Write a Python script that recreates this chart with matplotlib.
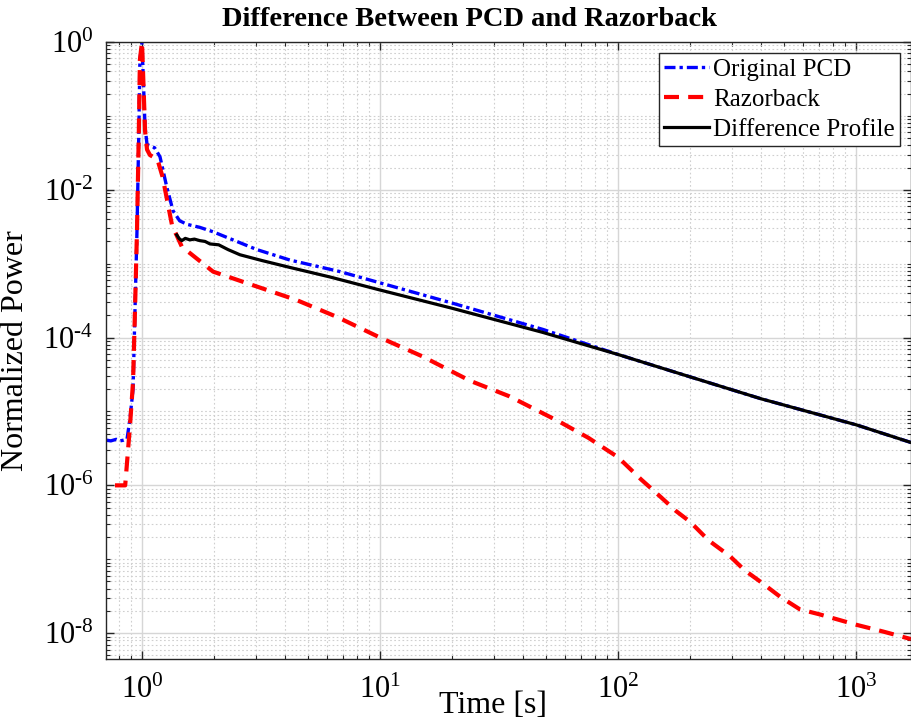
import numpy as np
import matplotlib
matplotlib.use("Agg")
import matplotlib.pyplot as plt
from matplotlib.ticker import FixedLocator, LogLocator, NullFormatter, FuncFormatter

plt.rcParams["font.family"] = ["Liberation Serif", "DejaVu Serif"]
plt.rcParams["mathtext.fontset"] = "custom"
plt.rcParams["mathtext.rm"] = "Liberation Serif"
plt.rcParams["mathtext.it"] = "Liberation Serif:italic"

# Original PCD (blue dash-dot)
orig_t = [0.706, 0.74, 0.78, 0.81, 0.84, 0.865, 0.89, 0.917, 0.935, 0.953, 0.97, 0.98, 1.0,
          1.007, 1.03, 1.05, 1.09, 1.13, 1.19, 1.27, 1.35, 1.44, 1.55, 1.75, 1.99, 2.41,
          3.04, 4.18, 6.8, 10, 20.3, 48.3, 100, 200, 400, 1000, 1700]
orig_p = [4.1e-6, 4.0e-6, 4.2e-6, 4.0e-6, 4.1e-6, 4.2e-6, 7.9e-6, 2.0e-5, 2.5e-4, 2.9e-3,
          6.3e-2, 0.575, 1.0, 0.525, 7.1e-2, 4.1e-2, 3.9e-2, 3.7e-2, 2.8e-2, 1.1e-2, 5.2e-3,
          3.8e-3, 3.4e-3, 3.1e-3, 2.7e-3, 2.1e-3, 1.55e-3, 1.12e-3, 7.8e-4, 5.5e-4,
          2.9e-4, 1.29e-4, 5.9e-5, 2.95e-5, 1.48e-5, 6.6e-6, 3.8e-6]

# Razorback (red dashed)
razor_t = [0.77, 0.85, 0.89, 0.917, 0.935, 0.953, 0.97, 0.98, 1.0, 1.007, 1.03, 1.05, 1.08,
           1.16, 1.22, 1.34, 1.40, 1.47, 1.99, 3.04, 4.48, 6.6, 10, 15, 23.9, 35, 57, 75,
           100, 125, 150, 175, 201, 240, 295, 340, 395, 480, 580, 700, 1000, 1300, 1700]
razor_p = [1.0e-6, 1.0e-6, 6.3e-6, 2.5e-5, 2.5e-4, 2.9e-3, 6.3e-2, 0.575, 1.0, 0.525, 6.3e-2,
           3.5e-2, 2.95e-2, 2.6e-2, 1.5e-2, 3.2e-3, 2.4e-3, 1.7e-3, 7.8e-4, 4.9e-4, 3.2e-4,
           1.9e-4, 1.0e-4, 5.6e-5, 2.6e-5, 1.6e-5, 7.2e-6, 4.4e-6, 2.4e-6, 1.2e-6,
           7.1e-7, 4.5e-7, 3.2e-7, 1.8e-7, 1.1e-7, 7.1e-8, 5.0e-8, 3.1e-8, 2.1e-8,
           1.8e-8, 1.3e-8, 1.05e-8, 8.3e-9]

# Difference profile (black solid)
diff_t = [1.40, 1.43, 1.47, 1.52, 1.59, 1.66, 1.75, 1.84, 1.93, 2.1, 2.3, 2.58, 3.2, 4.18,
          6.17, 10, 20, 48, 100, 200, 400, 1000, 1700]
diff_p = [2.45e-3, 2.2e-3, 2.05e-3, 2.2e-3, 2.1e-3, 2.15e-3, 2.05e-3, 2.0e-3, 1.85e-3,
          1.8e-3, 1.55e-3, 1.32e-3, 1.1e-3, 8.9e-4, 6.6e-4, 4.4e-4, 2.5e-4, 1.18e-4,
          5.9e-5, 2.95e-5, 1.48e-5, 6.6e-6, 3.8e-6]

y_major = [1e-8, 1e-6, 1e-4, 1e-2, 1e0]


def exp_label(v, _pos):
    e = int(round(np.log10(v)))
    if e < 0:
        return r"$10^{\text{-}%d}$" % (-e)
    return r"$10^{%d}$" % e


def main() -> None:
    fig = plt.figure(figsize=(9.11, 7.25), dpi=100)
    ax = fig.add_axes([106 / 911, 66 / 725, 805 / 911, 617 / 725])

    ax.plot(orig_t, orig_p, color="#0000ff", lw=2.4, dashes=(3.3, 1.2, 1.0, 1.2),
            label="Original PCD")
    ax.plot(razor_t, razor_p, color="#ff0000", lw=3.0, dashes=(3.6, 2.2),
            label="Razorback")
    ax.plot(diff_t, diff_p, color="black", lw=2.3, label="Difference Profile")

    ax.set_xscale("log")
    ax.set_yscale("log")
    ax.set_xlim(0.706, 1700)
    ax.set_ylim(10 ** -8.35, 1.0)

    fmt = FuncFormatter(exp_label)
    ax.xaxis.set_major_locator(FixedLocator([1, 10, 100, 1000]))
    ax.xaxis.set_minor_locator(LogLocator(base=10, subs=np.arange(2, 10), numticks=20))
    ax.yaxis.set_major_locator(FixedLocator(y_major))
    ax.yaxis.set_minor_locator(LogLocator(base=10, subs=np.arange(1, 10), numticks=30))
    ax.xaxis.set_major_formatter(fmt)
    ax.yaxis.set_major_formatter(fmt)
    ax.xaxis.set_minor_formatter(NullFormatter())
    ax.yaxis.set_minor_formatter(NullFormatter())

    ax.tick_params(which="both", direction="in", top=True, right=True, color="#262626")
    ax.tick_params(which="major", length=6, width=1.0, labelsize=22)
    ax.tick_params(axis="x", which="major", pad=12)
    ax.tick_params(axis="y", which="major", pad=9)
    ax.tick_params(which="minor", length=3, width=0.8)

    ax.grid(True, which="major", color="#d6d6d6", lw=1.0, ls="-")
    ax.grid(True, which="minor", color="#cfcfcf", lw=0.8, ls=(0, (1.5, 2.2)))
    ax.set_axisbelow(True)
    for s in ax.spines.values():
        s.set_color("#262626")
        s.set_linewidth(1.0)

    ax.set_ylabel("Normalized Power", fontsize=23)
    ax.yaxis.set_label_coords(-0.094, 0.5)
    ax.set_xlabel("Time [s]", fontsize=23)
    ax.xaxis.set_label_coords(0.481, -0.0746)
    ax.xaxis.label.set_va("center")

    ax.text(0.452, 1.036, "Difference Between PCD and Razorback", transform=ax.transAxes,
            ha="center", va="center", fontsize=20.5, fontweight="bold")

    leg = ax.legend(loc="upper right", bbox_to_anchor=(0.986, 0.982), borderaxespad=0,
                    fontsize=18, handlelength=1.8, handletextpad=0.15, labelspacing=0.3,
                    borderpad=0.2, fancybox=False, framealpha=1.0)
    leg.get_frame().set_edgecolor("#262626")
    leg.get_frame().set_linewidth(1.0)

    fig.savefig("out.png", dpi=100)
    plt.close(fig)


if __name__ == "__main__":
    main()
